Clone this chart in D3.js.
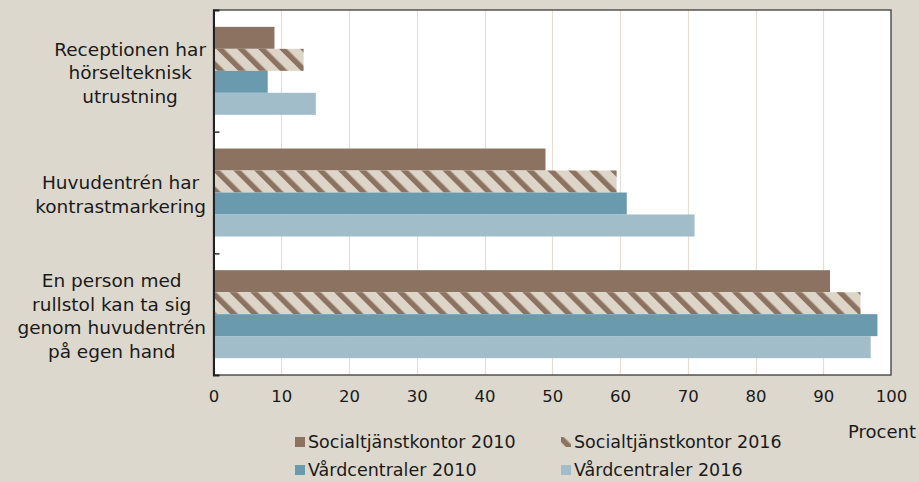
<!DOCTYPE html>
<html>
<head>
<meta charset="utf-8">
<script src="https://cdn.jsdelivr.net/npm/d3@7"></script>
<style>
  html, body { margin: 0; padding: 0; background: #ddd8ce; }
  svg { display: block; }
  text { font-family: "DejaVu Sans", sans-serif; fill: #1a1a1a; }
</style>
</head>
<body>
<svg id="chart" width="919" height="482"></svg>
<script>
// Categories (one group of bars each), listed top to bottom
const categories = [
  ["Receptionen har", "hörselteknisk", "utrustning"],
  ["Huvudentrén har", "kontrastmarkering"],
  ["En person med", "rullstol kan ta sig", "genom huvudentrén", "på egen hand"]
];
const categoryKeys = ["reception", "kontrast", "rullstol"];

// Series, in the order the bars are stacked inside each group
const seriesNames = [
  "Socialtjänstkontor 2010",
  "Socialtjänstkontor 2016",
  "Vårdcentraler 2010",
  "Vårdcentraler 2016"
];
// Share in percent, per category (same order as categories)
const socialt2010 = [9, 49, 91];
const socialt2016 = [13.3, 59.5, 95.5];
const vard2010    = [8, 61, 98];
const vard2016    = [15.1, 71, 97];
const seriesValues = [socialt2010, socialt2016, vard2010, vard2016];

const xTicks = [0, 10, 20, 30, 40, 50, 60, 70, 80, 90, 100];
const xUnit = "Procent";

const colors = ["#8c7261", "url(#hatch)", "#6a9aad", "#a0bdc9"];

const svg = d3.select("#chart");
const plot = { left: 213.5, right: 891, top: 10, bottom: 375 };

// Diagonal hatch for the 2016 social-services series
const defs = svg.append("defs");
const pat = defs.append("pattern")
  .attr("id", "hatch")
  .attr("patternUnits", "userSpaceOnUse")
  .attr("width", 14.8).attr("height", 14.8)
  .attr("patternTransform", "rotate(-45)");
pat.append("rect").attr("width", 14.8).attr("height", 14.8).attr("fill", "#ddd5c8");
pat.append("rect").attr("x", 0).attr("width", 5.4).attr("height", 14.8).attr("fill", "#8c7261");

// Scales
const x = d3.scaleLinear().domain([0, 100]).range([plot.left, plot.right]);
const y = d3.scaleBand().domain(categoryKeys)
  .range([plot.top, plot.bottom])
  .paddingInner(0.277).paddingOuter(0.1385);
const yInner = d3.scaleBand().domain(d3.range(seriesNames.length)).range([0, y.bandwidth()]);

// Plot background
svg.append("rect")
  .attr("x", plot.left).attr("y", plot.top)
  .attr("width", plot.right - plot.left).attr("height", plot.bottom - plot.top)
  .attr("fill", "#ffffff");

// Vertical gridlines
svg.append("g")
  .selectAll("line")
  .data(xTicks.filter(t => t > 0 && t < 100))
  .join("line")
  .attr("x1", d => Math.round(x(d)) + 0.5).attr("x2", d => Math.round(x(d)) + 0.5)
  .attr("y1", plot.top).attr("y2", plot.bottom)
  .attr("stroke", "#e4ded6").attr("stroke-width", 1.2);

// Bars
const rows = [];
categoryKeys.forEach((c, ci) => {
  seriesValues.forEach((vals, si) => rows.push({ c, si, v: vals[ci] }));
});
svg.append("g")
  .selectAll("rect")
  .data(rows)
  .join("rect")
  .attr("x", x(0))
  .attr("y", d => y(d.c) + yInner(d.si))
  .attr("width", d => x(d.v) - x(0))
  .attr("height", yInner.bandwidth())
  .attr("fill", d => colors[d.si]);

// Frame
svg.append("rect")
  .attr("x", plot.left).attr("y", plot.top)
  .attr("width", plot.right - plot.left).attr("height", plot.bottom - plot.top)
  .attr("fill", "none").attr("stroke", "#3c3c3c").attr("stroke-width", 1.3);

// Category axis: line with inward ticks between groups
const yEdges = d3.scaleLinear().domain([0, categoryKeys.length]).range([plot.top, plot.bottom]);
const yAxis = svg.append("g")
  .attr("transform", `translate(${plot.left},0)`)
  .call(d3.axisLeft(yEdges).tickValues([1, 2]).tickSize(-6).tickFormat(""));
yAxis.select(".domain").attr("stroke", "#222").attr("stroke-width", 2);
yAxis.selectAll(".tick line").attr("stroke", "#333").attr("stroke-width", 1.5);

// Category labels: each wrapped block sits against the axis, lines centred inside it
const labelRight = 206;
const labelG = svg.append("g");
categoryKeys.forEach((c, ci) => {
  const lines = categories[ci];
  const cy = y(c) + y.bandwidth() / 2 + 2;
  const lh = 23.5;
  const t = labelG.append("text")
    .attr("text-anchor", "middle")
    .attr("font-size", 18.5);
  const spans = lines.map((ln, li) => t.append("tspan")
    .attr("y", cy + (li - (lines.length - 1) / 2) * lh)
    .attr("dy", "0.35em")
    .text(ln));
  const maxW = d3.max(spans, s => s.node().getComputedTextLength());
  spans.forEach(s => s.attr("x", labelRight - maxW / 2));
});

// Value axis labels
const xAxis = svg.append("g")
  .attr("transform", `translate(0,${plot.bottom})`)
  .call(d3.axisBottom(x).tickValues(xTicks).tickSize(0).tickPadding(15).tickFormat(d3.format("d")));
xAxis.select(".domain").remove();
xAxis.selectAll("text")
  .attr("font-size", 16.5)
  .attr("font-family", "DejaVu Sans, sans-serif")
  .attr("fill", "#1a1a1a");

svg.append("text")
  .attr("x", 916).attr("y", 432).attr("dy", "0.35em")
  .attr("text-anchor", "end").attr("font-size", 18)
  .text(xUnit);

// Legend: two columns, two rows
const legendPos = [
  { x: 295, y: 442 }, { x: 561, y: 442 },
  { x: 295, y: 470 }, { x: 561, y: 470 }
];
const leg = svg.append("g")
  .selectAll("g")
  .data(seriesNames)
  .join("g")
  .attr("transform", (d, i) => `translate(${legendPos[i].x},${legendPos[i].y})`);
leg.append("rect")
  .attr("x", 0).attr("y", -5).attr("width", 10).attr("height", 10)
  .attr("fill", (d, i) => colors[i]);
leg.append("text")
  .attr("x", 13).attr("y", 0).attr("dy", "0.35em")
  .attr("font-size", 17.5)
  .text(d => d);
</script>
</body>
</html>
